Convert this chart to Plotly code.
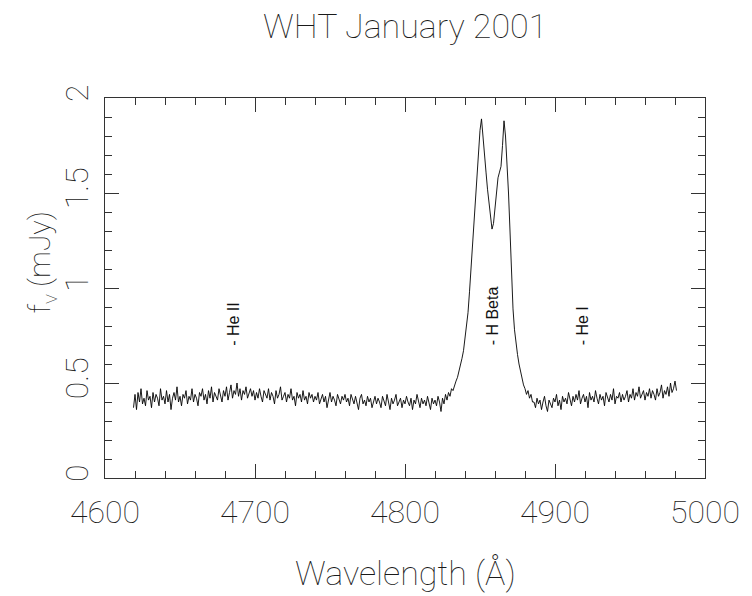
import plotly.graph_objects as go

# ---------------- data ----------------
wave_first = 4619          # first pixel wavelength (Angstrom)
wave_last = 4981           # last pixel wavelength (Angstrom), 1 A sampling
wavelength = list(range(wave_first, wave_last + 1))

# flux in mJy, 4619-4700
flux_blue = [
    0.37, 0.44, 0.36, 0.45, 0.40, 0.47, 0.39, 0.42, 0.38, 0.46, 0.41, 0.43, 0.37, 0.45, 0.40, 0.44, 0.42, 0.38, 0.47, 0.41,
    0.43, 0.39, 0.46, 0.40, 0.44, 0.36, 0.42, 0.45, 0.41, 0.48, 0.40, 0.43, 0.38, 0.44, 0.42, 0.46, 0.39, 0.43, 0.41, 0.47,
    0.40, 0.44, 0.42, 0.38, 0.45, 0.43, 0.47, 0.41, 0.44, 0.39, 0.46, 0.42, 0.48, 0.40, 0.45, 0.43, 0.41, 0.47, 0.44, 0.40,
    0.46, 0.43, 0.48, 0.41, 0.45, 0.49, 0.42, 0.46, 0.44, 0.50, 0.43, 0.47, 0.41, 0.46, 0.44, 0.48, 0.42, 0.45, 0.47, 0.43,
    0.46, 0.41,
]
# flux in mJy, 4701-4825
flux_mid = [
    0.45, 0.42, 0.47, 0.43, 0.40, 0.46, 0.44, 0.42, 0.47, 0.41, 0.45, 0.43, 0.39, 0.46, 0.42, 0.44, 0.48, 0.41, 0.43, 0.45,
    0.40, 0.44, 0.42, 0.47, 0.41, 0.43, 0.38, 0.45, 0.42, 0.44, 0.40, 0.46, 0.41, 0.43, 0.39, 0.45, 0.42, 0.44, 0.40, 0.43,
    0.41, 0.45, 0.39, 0.42, 0.44, 0.40, 0.43, 0.37, 0.42, 0.45, 0.40, 0.43, 0.41, 0.38, 0.44, 0.42, 0.39, 0.43, 0.41, 0.44,
    0.40, 0.42, 0.38, 0.44, 0.41, 0.39, 0.43, 0.40, 0.36, 0.42, 0.44, 0.39, 0.41, 0.38, 0.43, 0.40, 0.42, 0.37, 0.41, 0.43,
    0.39, 0.42, 0.40, 0.37, 0.43, 0.41, 0.38, 0.44, 0.40, 0.36, 0.42, 0.39, 0.41, 0.44, 0.38, 0.40, 0.42, 0.37, 0.41, 0.39,
    0.43, 0.40, 0.38, 0.42, 0.36, 0.41, 0.39, 0.44, 0.40, 0.37, 0.42, 0.39, 0.41, 0.38, 0.43, 0.40, 0.36, 0.42, 0.39, 0.41,
    0.38, 0.43, 0.40, 0.35, 0.42,
]
# flux in mJy, 4826-4885 (H beta double-peaked profile)
flux_hbeta = [
    0.39, 0.44, 0.41, 0.45, 0.43, 0.47, 0.46, 0.49, 0.51, 0.53,
    0.56, 0.60, 0.63, 0.67, 0.73, 0.79, 0.87, 0.98, 1.10, 1.23,
    1.36, 1.47, 1.60, 1.72, 1.83, 1.89, 1.78, 1.69, 1.61, 1.52,
    1.44, 1.37, 1.31, 1.34, 1.42, 1.50, 1.58, 1.61, 1.64, 1.75,
    1.88, 1.80, 1.66, 1.50, 1.30, 1.08, 0.89, 0.78, 0.70, 0.65,
    0.60, 0.56, 0.52, 0.49, 0.47, 0.44, 0.46, 0.42, 0.44, 0.40,
]
# flux in mJy, 4886-4981
flux_red = [
    0.40, 0.37, 0.42, 0.39, 0.41, 0.36, 0.40, 0.43, 0.38, 0.35, 0.41, 0.39, 0.37, 0.42, 0.40, 0.44, 0.38, 0.41, 0.36, 0.43,
    0.40, 0.42, 0.39, 0.45, 0.41, 0.38, 0.43, 0.40, 0.44, 0.41, 0.46, 0.39, 0.42, 0.44, 0.40, 0.43, 0.37, 0.45, 0.41, 0.43,
    0.40, 0.46, 0.42, 0.39, 0.44, 0.41, 0.43, 0.38, 0.45, 0.42, 0.40, 0.44, 0.41, 0.47, 0.39, 0.43, 0.42, 0.45, 0.40, 0.44,
    0.41, 0.43, 0.46, 0.40, 0.44, 0.42, 0.47, 0.41, 0.45, 0.43, 0.48, 0.42, 0.44, 0.46, 0.41, 0.45, 0.43, 0.47, 0.42, 0.46,
    0.44, 0.41, 0.47, 0.43, 0.45, 0.49, 0.42, 0.46, 0.44, 0.48, 0.43, 0.50, 0.45, 0.47, 0.51, 0.46,
]
flux = flux_blue + flux_mid + flux_hbeta + flux_red

line_names = ["- He II", "- H Beta", "- He I"]
line_waves = [4686, 4858, 4918]      # label positions as drawn in the reference
line_label_base = 0.685

x_ticks = [4600, 4700, 4800, 4900, 5000]
y_ticks = [0, 0.5, 1, 1.5, 2]
y_tick_text = ["0", "0.5", "1", "1.5", "2"]

# ---------------- figure ----------------
FAM = "Roboto, DejaVu Sans"
TICKF = dict(family=FAM, size=32, color="#1a1a1a", weight=100)
TITLEF = dict(family=FAM, size=34, color="#1a1a1a", weight=100)
YTITLEF = dict(family=FAM, size=30, color="#1a1a1a", weight=100)
ink = "#333333"

fig = go.Figure()
fig.add_trace(go.Scatter(x=wavelength, y=flux, mode="lines",
                         line=dict(color="black", width=0.9), hoverinfo="skip",
                         showlegend=False))

for name, w in zip(line_names, line_waves):
    fig.add_annotation(x=w, y=line_label_base, text=name, textangle=-90,
                       xanchor="center", yanchor="bottom", showarrow=False,
                       font=dict(family="Liberation Sans", size=16, color="#111111"))

axis_common = dict(showline=True, linecolor=ink, linewidth=1, mirror="allticks",
                   ticks="inside", tickcolor=ink, tickwidth=1, showgrid=False,
                   zeroline=False, tickfont=TICKF, ticklabeloverflow="allow")

fig.update_xaxes(range=[4600, 5000], tickvals=x_ticks, ticklen=14,
                 ticklabelstandoff=6,
                 minor=dict(dtick=20, ticks="inside", ticklen=7, tickcolor=ink, showgrid=False),
                 **axis_common)
fig.update_yaxes(range=[0, 2], tickvals=y_ticks, ticktext=y_tick_text, tickangle=-90,
                 ticklen=14, ticklabelstandoff=3,
                 minor=dict(dtick=0.1, ticks="inside", ticklen=7, tickcolor=ink, showgrid=False),
                 **axis_common)

fig.add_annotation(xref="paper", yref="paper", x=0.5, y=1.19, text="WHT January 2001",
                   showarrow=False, xanchor="center", yanchor="middle", font=TITLEF)
fig.add_annotation(xref="paper", yref="paper", x=0.5, y=-0.25, text="Wavelength (Å)",
                   showarrow=False, xanchor="center", yanchor="middle", font=TITLEF)
fig.add_annotation(xref="paper", yref="paper", x=-0.106, y=0.568,
                   text="f<sub>ν</sub> (mJy)", textangle=-90,
                   showarrow=False, xanchor="center", yanchor="middle", font=YTITLEF)

fig.update_layout(width=752, height=596, plot_bgcolor="white", paper_bgcolor="white",
                  margin=dict(l=105, r=35, t=98, b=118), showlegend=False)

fig.write_html("out.html")
